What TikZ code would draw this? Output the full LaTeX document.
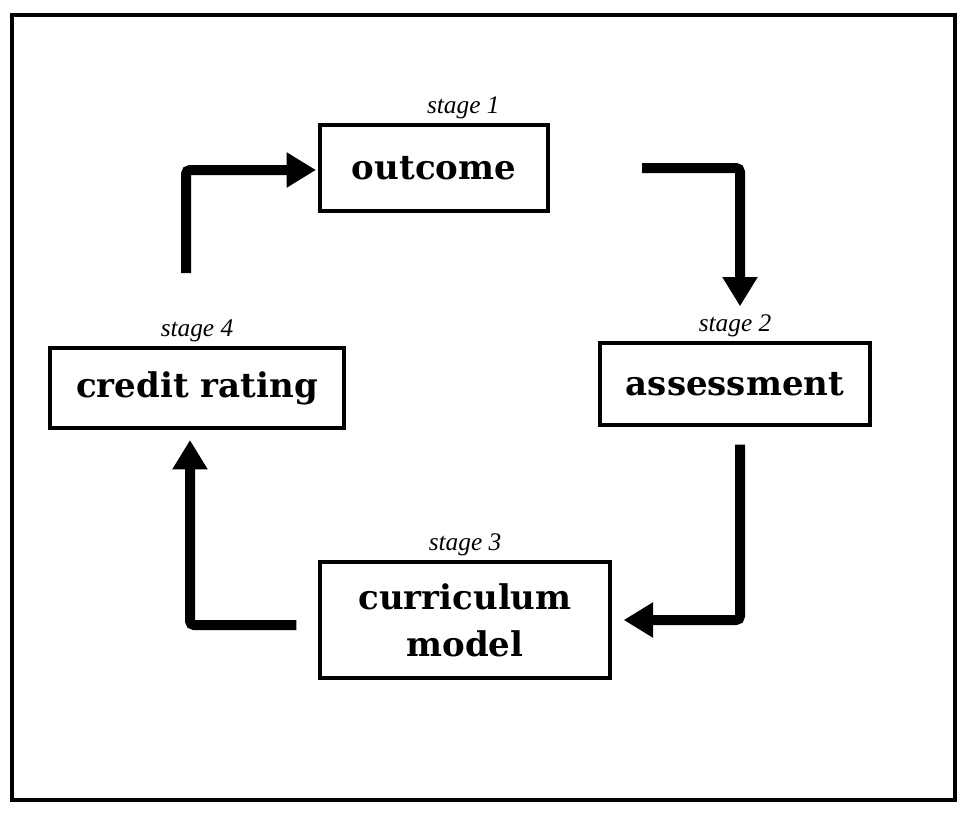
\documentclass[tikz,border=0pt]{standalone}
\usepackage{fontspec}
\usepackage{tikz}
\usetikzlibrary{arrows.meta,positioning,calc}
\newfontfamily\boxfont{DejaVu Serif}
\newfontfamily\labelfont{Liberation Serif}
\tikzset{
  stagebox/.style={
    rectangle,
    draw=black,
    line width=3pt,
    align=center,
    inner sep=2pt,
    font=\boxfont\fontsize{25.5}{35}\selectfont\bfseries
  },
  stagelabel/.style={
    inner sep=1pt,
    font=\labelfont\fontsize{19}{22}\selectfont\itshape
  },
  flow/.style={
    -{Triangle[length=22pt,width=25pt]},
    line width=7.5pt,
    rounded corners=3pt,
    draw=black
  }
}

\begin{document}
\begin{tikzpicture}[x=0.75pt,y=-0.75pt]
  \useasboundingbox (0,0) rectangle (963,815);
  \draw[line width=2.4pt] (12,15) rectangle (955,800);
  % boxes
  \node[stagebox,minimum width=171pt,minimum height=65pt] (outcome) at (434,168) {outcome};
  \node[stagebox,minimum width=202pt,minimum height=61pt] (assess) at (735,384) {assessment};
  \node[stagebox,minimum width=217pt,minimum height=87pt] (curric) at (465,620) {curriculum\\model};
  \node[stagebox,minimum width=221pt,minimum height=60pt] (credit) at (197,388) {credit rating};
  % stage labels
  \node[stagelabel,above=2pt of outcome,xshift=22pt] (s1) {stage 1};
  \node[stagelabel,above=2pt of assess] (s2) {stage 2};
  \node[stagelabel,above=2pt of curric] (s3) {stage 3};
  \node[stagelabel,above=2pt of credit] (s4) {stage 4};
  % connectors
  \draw[flow] ($(outcome.east)+(92,0)$) -| ($(assess.north)+(5,-35)$);
  \draw[flow] ($(assess.south)+(5,18)$) |- ($(curric.east)+(12,0)$);
  \draw[flow] ($(curric.west)+(-22,5)$) -| ($(credit.south)+(-7,10)$);
  \draw[flow] ($(credit.north)+(-11,-73)$) |- ($(outcome.west)+(-2,2)$);
\end{tikzpicture}
\end{document}
